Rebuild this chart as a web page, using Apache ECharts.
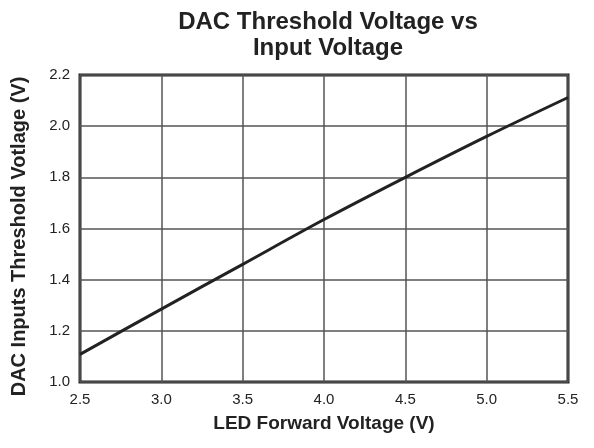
<!DOCTYPE html>
<html>
<head>
<meta charset="utf-8">
<script src="https://cdn.jsdelivr.net/npm/echarts@6/dist/echarts.min.js"></script>
<style>html,body{margin:0;padding:0;background:#fff;}#c{width:594px;height:448px;}</style>
</head>
<body>
<div id="c"></div>
<script>
var ledVoltage = [2.5, 3.0, 3.5, 4.0, 4.5, 5.0, 5.5];
var thresholdVoltage = [1.108, 1.285, 1.46, 1.635, 1.80, 1.96, 2.112];
var titleText = 'DAC Threshold Voltage vs\nInput Voltage';
var xName = 'LED Forward Voltage (V)';
var yName = 'DAC Inputs Threshold Votlage (V)';

var chart = echarts.init(document.getElementById('c'));
var font = 'Liberation Sans, Arial, Helvetica, sans-serif';
chart.setOption({
  animation: false,
  title: {
    text: titleText,
    left: 323, top: 4, textAlign: 'center',
    textStyle: {fontFamily: font, fontSize: 24, fontWeight: 'bold', color: '#222', lineHeight: 26}
  },
  grid: {left: 80, right: 26, top: 75, bottom: 66, show: true, borderColor: '#222', borderWidth: 3, containLabel: false},
  xAxis: {
    type: 'value', min: 2.5, max: 5.5, interval: 0.5,
    name: xName, nameLocation: 'middle', nameGap: 32,
    nameTextStyle: {fontFamily: font, fontSize: 19, fontWeight: 'bold', color: '#222'},
    axisLine: {show: false}, axisTick: {show: false},
    axisLabel: {fontFamily: font, fontSize: 15, color: '#222', margin: 10, formatter: function(v){return v.toFixed(1);}},
    splitLine: {show: true, lineStyle: {color: '#555', width: 1.5}}
  },
  yAxis: {
    type: 'value', min: 1.0, max: 2.2, interval: 0.2,
    name: yName, nameLocation: 'middle', nameGap: 51,
    nameTextStyle: {fontFamily: font, fontSize: 20, fontWeight: 'bold', color: '#222', padding: [0, 16, 0, 0]},
    axisLine: {show: false}, axisTick: {show: false},
    axisLabel: {fontFamily: font, fontSize: 15, color: '#222', margin: 10, formatter: function(v){return v.toFixed(1);}},
    splitLine: {show: true, lineStyle: {color: '#555', width: 1.5}}
  },
  series: [{
    type: 'line', data: ledVoltage.map(function(x, i){return [x, thresholdVoltage[i]];}),
    showSymbol: false, smooth: 0.3,
    lineStyle: {color: '#222', width: 3}
  }]
});
</script>
</body>
</html>
